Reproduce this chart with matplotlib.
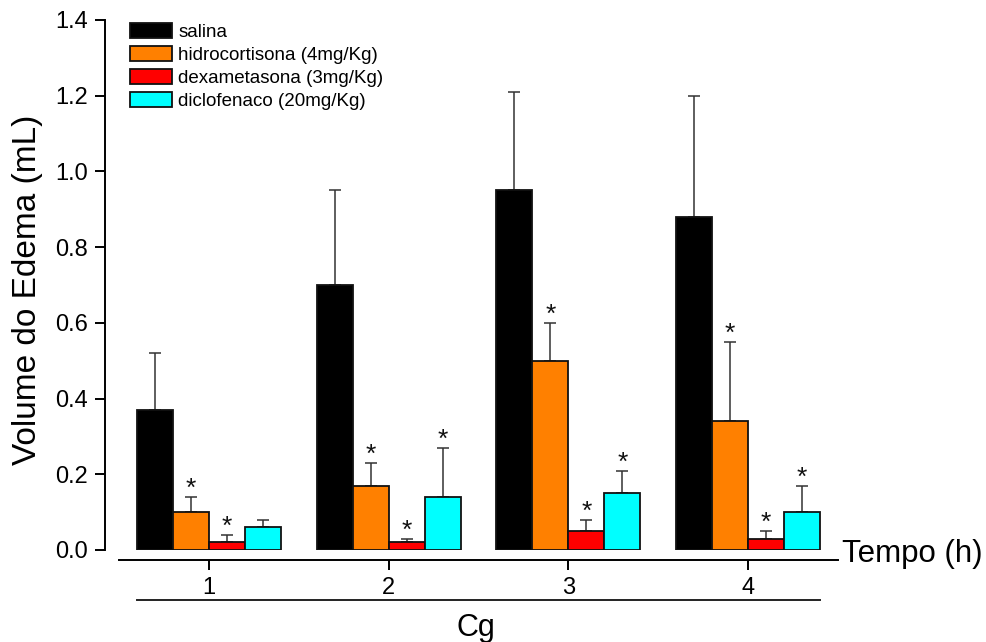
import matplotlib
matplotlib.use("Agg")
import matplotlib.pyplot as plt
import matplotlib.transforms as mtransforms
import numpy as np

plt.rcParams['font.family'] = ['Liberation Sans', 'DejaVu Sans']

# ---- data ----
times = [1, 2, 3, 4]
time_labels = ["1", "2", "3", "4"]
series_names = ["salina", "hidrocortisona (4mg/Kg)", "dexametasona (3mg/Kg)", "diclofenaco (20mg/Kg)"]
series_colors = ["#000000", "#FF8000", "#FF0000", "#00FFFF"]

salina_mean = [0.37, 0.70, 0.95, 0.88]
salina_err = [0.15, 0.25, 0.26, 0.32]
hidro_mean = [0.10, 0.17, 0.50, 0.34]
hidro_err = [0.04, 0.06, 0.10, 0.21]
dexa_mean = [0.02, 0.02, 0.05, 0.03]
dexa_err = [0.02, 0.01, 0.03, 0.02]
diclo_mean = [0.06, 0.14, 0.15, 0.10]
diclo_err = [0.02, 0.13, 0.06, 0.07]

salina_sig = [False, False, False, False]
hidro_sig = [True, True, True, True]
dexa_sig = [True, True, True, True]
diclo_sig = [False, True, True, True]

y_ticks = [0.0, 0.2, 0.4, 0.6, 0.8, 1.0, 1.2, 1.4]

means = [salina_mean, hidro_mean, dexa_mean, diclo_mean]
errs = [salina_err, hidro_err, dexa_err, diclo_err]
sigs = [salina_sig, hidro_sig, dexa_sig, diclo_sig]

# ---- figure ----
W, H = 987, 642
fig = plt.figure(figsize=(W / 100, H / 100), dpi=100)
ax_left, ax_right, ax_top, ax_bottom = 105, 838, 20, 550
ax = fig.add_axes([ax_left / W, 1 - ax_bottom / H, (ax_right - ax_left) / W, (ax_bottom - ax_top) / H])

bar_w = 0.2
x = np.array(times, dtype=float)
handles = []
for i, (m, e, s, name, col) in enumerate(zip(means, errs, sigs, series_names, series_colors)):
    xi = x + (i - 1.5) * bar_w
    ax.errorbar(xi, m, yerr=[np.zeros(len(m)), e], fmt='none', ecolor='#333333',
                elinewidth=1.1, capsize=4.2, capthick=1.1, zorder=1)
    b = ax.bar(xi, m, width=bar_w, color=col, edgecolor='#111111',
               linewidth=1.3, zorder=2, label=name)
    handles.append(b)
    for xx, mm, ee, ss in zip(xi, m, e, s):
        if ss:
            ax.annotate('*', xy=(xx, mm + ee), xytext=(0, -4), textcoords='offset pixels',
                        ha='center', va='bottom', fontsize=19, color='#111111')

ax.set_xlim(0.422, 4.5)
ax.set_ylim(0, 1.4)
ax.set_yticks(y_ticks)
ax.set_yticklabels([f"{t:.1f}" for t in y_ticks])
ax.set_xticks(times)
ax.set_xticklabels(time_labels)

for sp in ['top', 'right']:
    ax.spines[sp].set_visible(False)
ax.spines['left'].set_linewidth(1.4)
ax.spines['bottom'].set_linewidth(1.4)
ax.spines['bottom'].set_position(('outward', 7.2))
ax.spines['bottom'].set_bounds(0.5, 4.5)

ax.tick_params(axis='both', direction='out', length=7.2, width=1.4, labelsize=17, colors='black')
ax.tick_params(axis='y', pad=5)
ax.tick_params(axis='x', pad=5)

# second (category) line
trans = mtransforms.blended_transform_factory(ax.transData, ax.transAxes)
ax.plot([0.6, 4.4], [(ax_bottom - 600) / (ax_bottom - ax_top)] * 2, transform=trans,
        color='#222222', linewidth=1.4, clip_on=False)

ax.set_ylabel("Volume do Edema (mL)", fontsize=24, va='center')
ax.yaxis.set_label_coords(-0.106, 0.49)
ax.set_xlabel("Cg", fontsize=22)
ax.xaxis.set_label_coords((476 - ax_left) / (ax_right - ax_left), (ax_bottom - 613) / (ax_bottom - ax_top))

ax.annotate("Tempo (h)", xy=(1, 0), xycoords='axes fraction', xytext=(4, -4),
            textcoords='offset pixels', ha='left', va='center', fontsize=22.5)

leg = ax.legend(handles=handles, loc='upper left', bbox_to_anchor=(130 / W, 1 - 23 / H),
                bbox_transform=fig.transFigure, frameon=False, fontsize=13.5,
                borderpad=0, borderaxespad=0, handlelength=2.25, handleheight=0.86,
                handletextpad=0.32, labelspacing=0.27)

fig.savefig("out.png", dpi=100)
